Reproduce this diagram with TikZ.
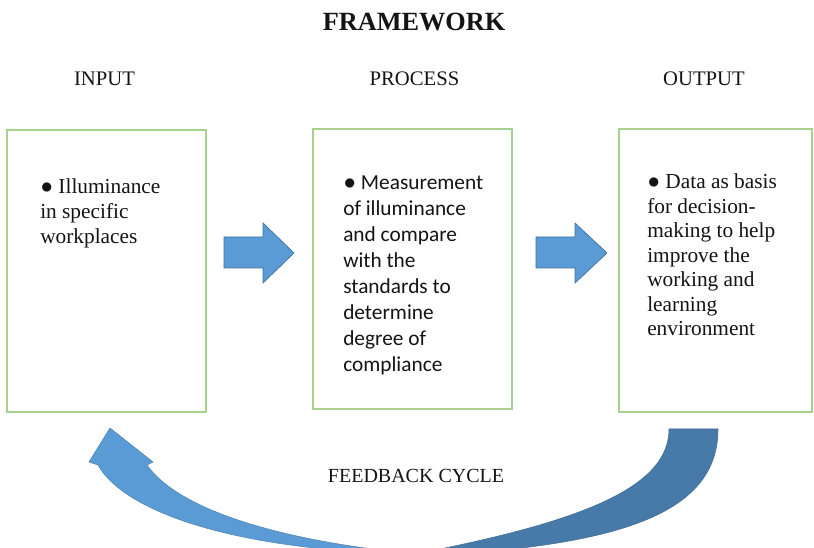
\documentclass[tikz,border=0pt]{standalone}
\usepackage{fontspec}
\setmainfont{Liberation Serif}
\newfontfamily\serifbox{Liberation Serif}
\newfontfamily\sansbox{Carlito}
\definecolor{boxgreen}{HTML}{A9D18E}
\definecolor{arrowblue}{HTML}{5B9BD5}
\definecolor{arrowedge}{HTML}{41719C}
\definecolor{taildark}{HTML}{477AA9}
\definecolor{ink}{HTML}{141414}
\begin{document}
\begin{tikzpicture}[x=0.75pt,y=-0.75pt,
  stagebox/.style={draw=boxgreen, line width=1.1pt, fill=white, inner sep=0pt},
  serifbody/.style={anchor=base west, inner sep=0pt, text=ink,
    font=\serifbox\fontsize{16}{18.4}\selectfont},
  sansbody/.style={anchor=base west, inner sep=0pt, text=ink,
    font=\sansbox\fontsize{16}{19.5}\selectfont},
  heading/.style={anchor=base, inner sep=0pt, text=ink,
    font=\serifbox\fontsize{15.5}{18}\selectfont},
  blockarrow/.style={fill=arrowblue, draw=arrowedge, line width=0.5pt, line join=miter},
  cyclebody/.style={fill=arrowblue, draw=arrowblue!85!black, line width=0.4pt},
  cycletail/.style={fill=taildark, draw=taildark!90!black, line width=0.4pt}]
\useasboundingbox (0,0) rectangle (814,548);
\renewcommand{\arraystretch}{1}

% title and column headings
\node[anchor=base, inner sep=0pt, text=ink, font=\serifbox\bfseries\fontsize{19.7}{23}\selectfont]
  (title) at (414,30.7) {FRAMEWORK};
\node[heading] (hin)   at (104.5,86) {INPUT};
\node[heading] (hproc) at (414.5,86) {PROCESS};
\node[heading] (hout)  at (704,86)   {OUTPUT};

% the three stage boxes
\node[stagebox, minimum width=149.25pt, minimum height=211.5pt] (inbox)   at (106.5,271) {};
\node[stagebox, minimum width=149.25pt, minimum height=210pt]   (procbox) at (412.5,269) {};
\node[stagebox, minimum width=144.75pt, minimum height=212.25pt] (outbox) at (715.5,270.5) {};

% box contents
\node[serifbody] (intext) at (40,194)
  {\begin{tabular}[t]{@{}l@{}}\serifbox ● Illuminance\\\serifbox in specific\\\serifbox workplaces\end{tabular}};
\node[sansbody] (proctext) at (343,190)
  {\begin{tabular}[t]{@{}l@{}}{\serifbox●} Measurement\\of illuminance\\and compare\\with the\\standards to\\determine\\degree of\\compliance\end{tabular}};
\node[serifbody] (outtext) at (647,188.5)
  {\begin{tabular}[t]{@{}l@{}}● Data as basis\\for decision-\\making to help\\improve the\\working and\\learning\\environment\end{tabular}};

% block arrows between the stages
\draw[blockarrow] (224,237) -- (263,237) -- (263,223) -- (294,253)
  -- (263,283) -- (263,268) -- (224,268) -- cycle;
\draw[blockarrow] (536,237) -- (575,237) -- (575,223) -- (607,253)
  -- (575,283) -- (575,268) -- (536,268) -- cycle;

% feedback cycle: curved arrow running under the boxes
\begin{scope}
  \clip (0,0) rectangle (814,548);
  \draw[cycletail] (669,429) -- (718,429)
    .. controls (718,505) and (640,540) .. (470,553)
    -- (420,553)
    .. controls (590,520) and (669,485) .. (669,429) -- cycle;
  \draw[cyclebody] (110,428) -- (153,462) -- (147,465)
    .. controls (175,505) and (260,535) .. (380,550)
    -- (380,553)
    .. controls (210,545) and (120,505) .. (98,465)
    -- (89,462) -- cycle;
\end{scope}

\node[heading, font=\serifbox\fontsize{15}{18}\selectfont] (fb) at (416,483) {FEEDBACK CYCLE};
\end{tikzpicture}
\end{document}
